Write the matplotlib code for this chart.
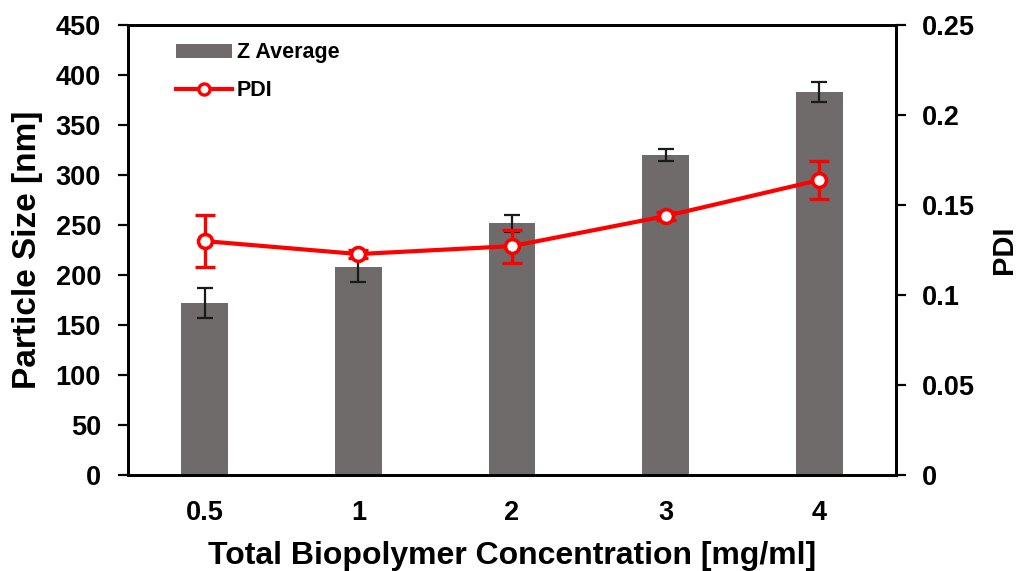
import numpy as np
import matplotlib
matplotlib.use("Agg")
import matplotlib.pyplot as plt
from matplotlib.lines import Line2D
from matplotlib.patches import Patch

# ============================================================
# Data
# ============================================================
concentrations = ["0.5", "1", "2", "3", "4"]
z_average = [172, 208, 252, 320, 383]
z_average_err = [15, 15, 8.5, 6, 10]
pdi = [0.130, 0.1228, 0.1272, 0.1439, 0.1639]
pdi_err = [0.0144, 0.002, 0.0092, 0.002, 0.0107]

plt.rcParams["font.family"] = ["Liberation Sans", "DejaVu Sans"]
plt.rcParams["font.weight"] = "bold"

BAR_COLOR = "#6f6b6b"
RED = "#ff0000"

fig = plt.figure(figsize=(10.18, 5.71), dpi=100)
ax = fig.add_axes([0.1257, 0.168, 0.7545, 0.788])

x = np.arange(len(concentrations))
ax.bar(x, z_average, width=0.305, color=BAR_COLOR, zorder=2)
ax.errorbar(x, z_average, yerr=z_average_err, fmt="none", ecolor="#1a1a1a",
            elinewidth=1.6, capsize=6, capthick=1.6, zorder=3)

ax.set_xlim(-0.5, len(concentrations) - 0.5)
ax.set_ylim(0, 450)
ax.set_yticks(np.arange(0, 451, 50))
ax.set_xticks(x)
ax.set_xticklabels(concentrations)
ax.tick_params(axis="x", length=0, pad=18, labelsize=19.5)
ax.tick_params(axis="y", direction="out", length=7.5, width=1.6, labelsize=19.5, pad=12)
ax.set_xlabel("Total Biopolymer Concentration [mg/ml]", fontsize=23, fontweight="bold", labelpad=11)
ax.set_ylabel("Particle Size [nm]", fontsize=24, fontweight="bold", labelpad=9)
for sp in ax.spines.values():
    sp.set_linewidth(2)

ax2 = ax.twinx()
ax2.errorbar(x, pdi, yerr=pdi_err, fmt="none", ecolor=RED, elinewidth=2.4,
             capsize=7, capthick=2.4, zorder=3)
ax2.plot(x, pdi, color=RED, lw=3, marker="o", markersize=10,
         markerfacecolor="white", markeredgecolor=RED, markeredgewidth=2.6, zorder=4)
ax2.set_ylim(0, 0.25)
ax2.set_yticks([0, 0.05, 0.1, 0.15, 0.2, 0.25])
ax2.set_yticklabels(["0", "0.05", "0.1", "0.15", "0.2", "0.25"])
ax2.tick_params(axis="y", direction="out", length=7.5, width=1.6, labelsize=19.5, pad=11)
ax2.set_ylabel("PDI", fontsize=21, fontweight="bold", labelpad=11)
for sp in ax2.spines.values():
    sp.set_linewidth(2)

handles = [
    Patch(facecolor=BAR_COLOR, label="Z Average"),
    Line2D([], [], color=RED, lw=3, marker="o", markersize=8,
           markerfacecolor="white", markeredgecolor=RED, markeredgewidth=2.4, label="PDI"),
]
leg = ax2.legend(handles=handles, loc="upper left", bbox_to_anchor=(0.051, 0.981),
                 borderaxespad=0, frameon=False, fontsize=15.5, handlelength=2.6,
                 handleheight=0.6, handletextpad=0.23, labelspacing=0.77)
leg.set_zorder(10)

fig.savefig("out.png", dpi=100)
